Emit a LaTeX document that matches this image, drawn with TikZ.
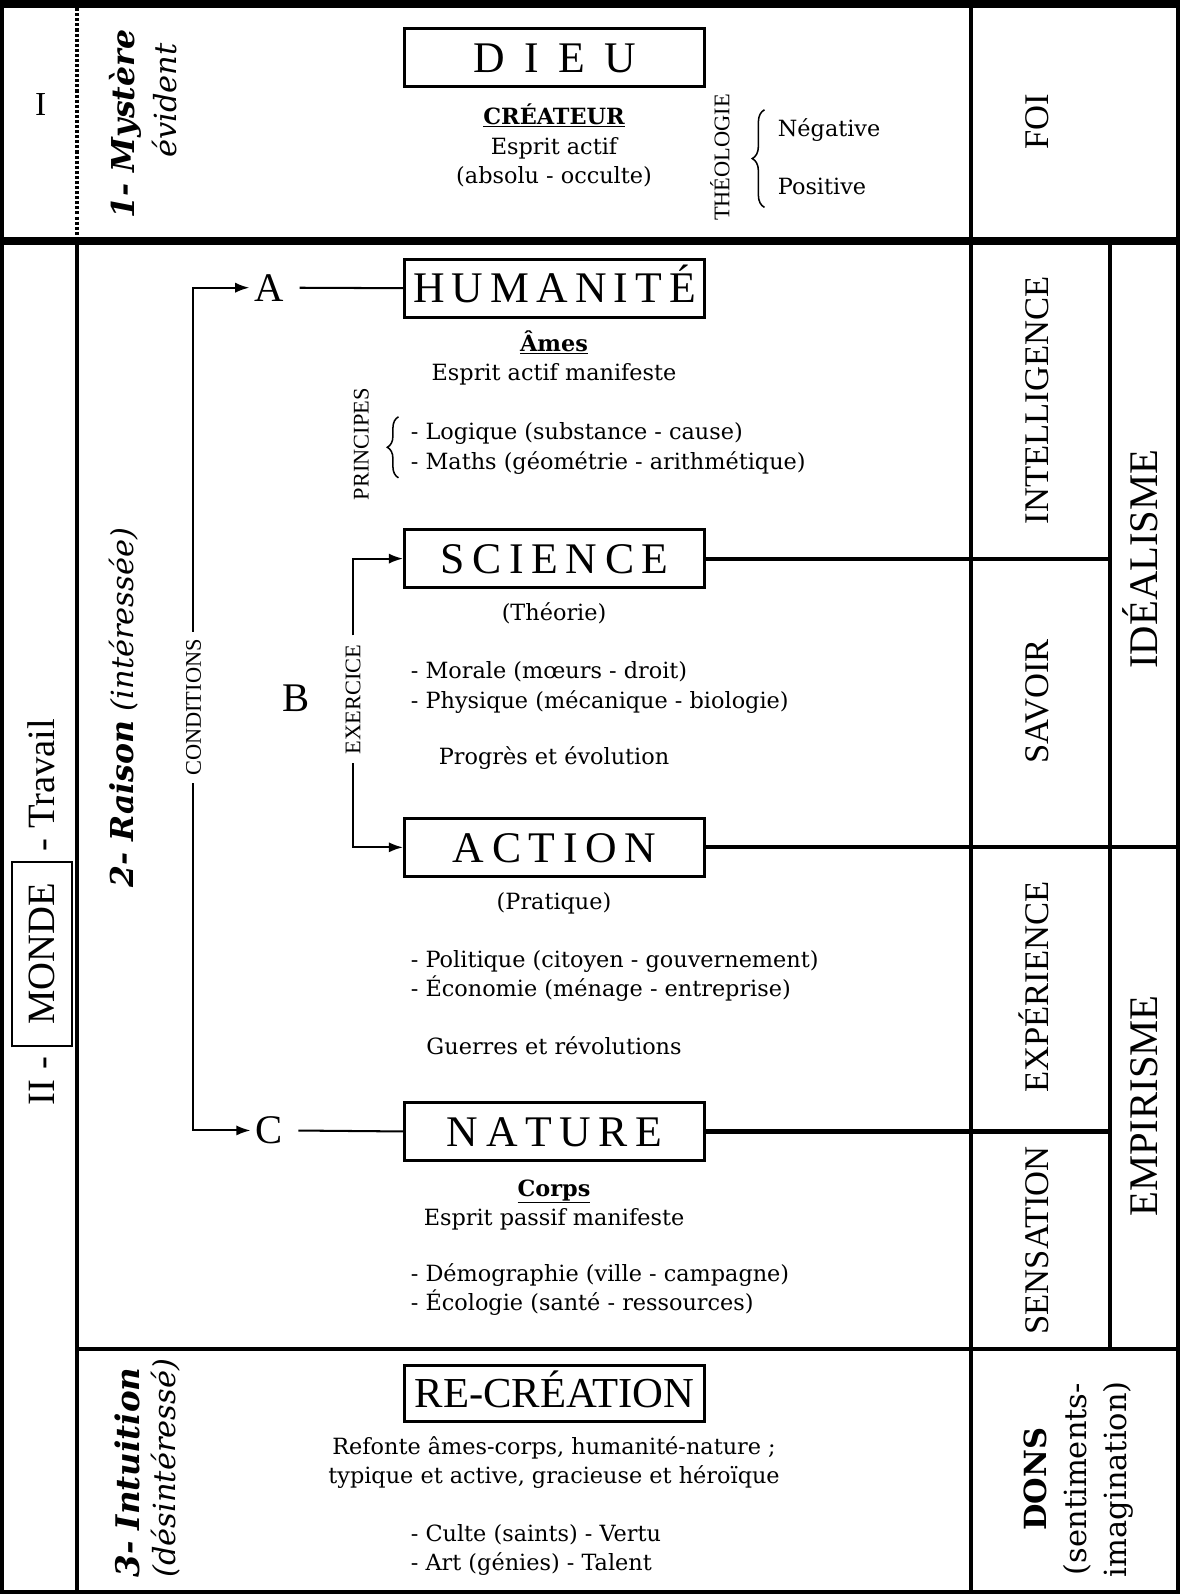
\documentclass[tikz,border=0pt]{standalone}
\usepackage{fontspec}
\setmainfont{Liberation Serif}
\newfontfamily\geo{DejaVu Serif}
\usetikzlibrary{arrows.meta,decorations.pathreplacing}
\begin{document}
\begin{tikzpicture}[x=1pt,y=-1pt,
  rule/.style={line width=4pt},
  body/.style={font=\geo\fontsize{22}{29}\selectfont, inner sep=0pt, text height=19pt, text depth=2pt},
  listitem/.style={body, anchor=west},
  titlebox/.style={draw, line width=3pt, minimum width=295pt, minimum height=57pt, inner sep=0pt, text height=29pt, text depth=0pt, font=\fontsize{43}{43}\selectfont},
  colab/.style={rotate=90, inner sep=0pt, text height=23pt, text depth=0pt, font=\fontsize{34}{34}\selectfont},
  biglab/.style={rotate=90, inner sep=0pt, text height=27pt, text depth=0pt, font=\fontsize{40}{40}\selectfont},
  smalllab/.style={rotate=90, inner xsep=7pt, inner ysep=0pt, text height=15pt, text depth=0pt, font=\fontsize{22}{22}\selectfont},
  letter/.style={inner sep=5pt, font=\fontsize{40}{40}\selectfont},
  conn/.style={line width=2pt, -{Latex[length=14pt,width=10pt]}},
  link/.style={line width=2pt},
  heavylink/.style={line width=4pt},
  bracestyle/.style={decorate, decoration={brace, amplitude=12pt}, line width=1.5pt},
  sidehead/.style={rotate=90, inner sep=0pt},
  bihead/.style={font=\geo\bfseries\itshape\fontsize{31}{31}\selectfont},
  ihead/.style={font=\geo\itshape\fontsize{30}{30}\selectfont}
]
\useasboundingbox (0,0) rectangle (1161,1568);
% table frame
\draw[line width=8pt] (0,4) -- (1161,4);
\draw[line width=8pt] (0,237) -- (1161,237);
\draw[rule] (2,0) -- (2,1568);
\draw[rule] (1159,0) -- (1159,1568);
\draw[rule] (0,1566) -- (1161,1566);
\draw[line width=4pt, dash pattern=on 3pt off 2pt] (76,8) -- (76,233);
\draw[rule] (76,241) -- (76,1568);
\draw[rule] (955,0) -- (955,1568);
\draw[rule] (1092,241) -- (1092,1327);
\draw[line width=3pt] (76,1327) -- (1161,1327);
\coordinate (colB) at (1092,548);
\coordinate (rightB) at (1159,832);

% Section I
\node[font=\fontsize{33}{33}\selectfont, inner sep=0pt] (one) at (40,103) {I};
\node[sidehead, bihead] (myst) at (123,122) {1- Mystère};
\node[sidehead, ihead] (evid) at (162,99) {évident};
\node[titlebox] (dieu) at (545.5,56.5) {D\kern19pt I\kern19pt E\kern19pt U};
\node[body] (crea) at (545,114) {\textbf{\underline{CRÉATEUR}}};
\node[body] (esp1) at (545,143) {Esprit actif};
\node[body] (abs) at (545,172) {(absolu - occulte)};
\node[smalllab] (theo) at (710,155) {THÉOLOGIE};
\draw[bracestyle] (752,204) -- (752,108);
\node[listitem] (neg) at (765,126) {Négative};
\node[listitem] (pos) at (765,183) {Positive};
\node[colab] (foi) at (1020,120) {FOI};

% Section II left
\node[rotate=90, inner sep=0pt, font=\fontsize{38}{38}\selectfont] (monde) at (41.5,897)
  {II - {\setlength{\fboxsep}{16pt}\setlength{\fboxrule}{2pt}\fbox{\kern4pt MONDE\kern4pt}} - Travail};
\node[sidehead] (raison) at (122,696) {{\geo\bfseries\itshape\fontsize{31}{31}\selectfont 2- Raison}\kern9pt{\geo\itshape\fontsize{30}{30}\selectfont (intéressée)}};
\node[smalllab] (cond) at (190,696) {CONDITIONS};
\node[letter] (A) at (265,283) {A};
\node[letter] (B) at (291,687) {B};
\node[letter] (C) at (265,1112) {C};

% boxes
\node[titlebox] (hum) at (545.5,283.5) {H\kern7pt U\kern7pt M\kern7pt A\kern7pt N\kern7pt I\kern7pt T\kern7pt É};
\node[titlebox] (sci) at (545.5,549.5) {S\kern7.5pt C\kern7.5pt I\kern7.5pt E\kern7.5pt N\kern7.5pt C\kern7.5pt E};
\node[titlebox] (act) at (545.5,833.5) {A\kern7.5pt C\kern7.5pt T\kern7.5pt I\kern7.5pt O\kern7.5pt N};
\node[titlebox] (nat) at (545.5,1113) {N\kern7.5pt A\kern7.5pt T\kern7.5pt U\kern7.5pt R\kern7.5pt E};

\draw[conn] (cond.east) |- (A.west);
\draw[conn] (cond.west) |- (C.west);
\draw[link, shorten <=10pt] (A.east) -- (hum.west);
\draw[link, shorten <=10pt] (C.east) -- (nat.west);

\node[smalllab, inner xsep=9pt] (exer) at (347,688) {EXERCICE};
\draw[conn] (exer.east) |- (sci.west);
\draw[conn] (exer.west) |- (act.west);

\draw[heavylink] (sci.east) -- (sci.east -| colB);
\draw[heavylink] (act.east) -- (act.east -| rightB);
\draw[heavylink] (nat.east) -- (nat.east -| colB);

% Humanité text
\node[body] (ames) at (545,337) {\textbf{\underline{Âmes}}};
\node[body] (esp2) at (545,366) {Esprit actif manifeste};
\node[smalllab] (princ) at (355,437) {PRINCIPES};
\draw[bracestyle, decoration={amplitude=11pt}] (392,470) -- (392,410);
\node[listitem] (log) at (404,424) {- Logique (substance - cause)};
\node[listitem] (math) at (404,453) {- Maths (géométrie - arithmétique)};

% Science text
\node[body] (theor) at (545,602) {(Théorie)};
\node[listitem] (mor) at (404,659) {- Morale (mœurs - droit)};
\node[listitem] (phys) at (404,688) {- Physique (mécanique - biologie)};
\node[body] (prog) at (545,744) {Progrès et évolution};

% Action text
\node[body] (prat) at (545,886) {(Pratique)};
\node[listitem] (pol) at (404,943) {- Politique (citoyen - gouvernement)};
\node[listitem] (eco) at (404,972) {- Économie (ménage - entreprise)};
\node[body] (guer) at (545,1029) {Guerres et révolutions};

% Nature text
\node[body] (corps) at (545,1168) {\textbf{\underline{Corps}}};
\node[body] (esp3) at (545,1197) {Esprit passif manifeste};
\node[listitem] (demo) at (404,1252) {- Démographie (ville - campagne)};
\node[listitem] (ecol) at (404,1281) {- Écologie (santé - ressources)};

% right columns
\node[colab] (intel) at (1020,394) {INTELLIGENCE};
\node[colab] (sav) at (1020,690) {SAVOIR};
\node[colab] (exp) at (1020,971) {EXPÉRIENCE};
\node[colab] (sens) at (1020,1220) {SENSATION};
\node[biglab] (ideal) at (1125,550) {IDÉALISME};
\node[biglab] (empi) at (1125,1088) {EMPIRISME};

% Section III
\node[sidehead, bihead, anchor=west, font=\geo\bfseries\itshape\fontsize{32}{32}\selectfont] (intu) at (125,1552) {3- Intuition};
\node[sidehead, ihead, anchor=west] (desint) at (163,1552) {(désintéressé)};
\node[titlebox, minimum height=55pt, font=\fontsize{42}{42}\selectfont] (recr) at (545.5,1370.5) {RE-CRÉATION};
\node[body] (ref1) at (545,1422) {Refonte âmes-corps, humanité-nature ;};
\node[body] (ref2) at (545,1451) {typique et active, gracieuse et héroïque};
\node[listitem] (culte) at (404,1508) {- Culte (saints) - Vertu};
\node[listitem] (art) at (404,1536) {- Art (génies) - Talent};
\node[rotate=90, align=center, inner sep=0pt, font=\geo\fontsize{30}{39}\selectfont] (dons) at (1061,1455)
  {\textbf{DONS}\\(sentiments-\\imagination)};
\end{tikzpicture}
\end{document}
